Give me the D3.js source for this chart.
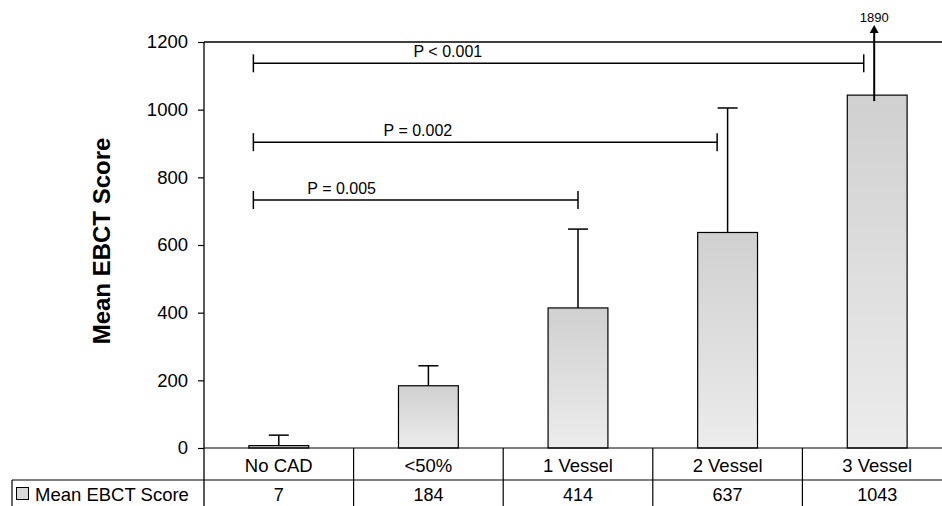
<!DOCTYPE html>
<html>
<head>
<meta charset="utf-8">
<script src="https://cdn.jsdelivr.net/npm/d3@7"></script>
<style>
  body { margin: 0; background: #fff; }
  svg { display: block; font-family: "Liberation Sans", Arial, sans-serif; }
</style>
</head>
<body>
<div id="chart"></div>
<script>
let categories = ["No CAD", "<50%", "1 Vessel", "2 Vessel", "3 Vessel"];
let meanScores = [7, 184, 414, 637, 1043];
let errorTops = [38, 243, 647, 1005, 1890];
let yTicks = [0, 200, 400, 600, 800, 1000, 1200];
let seriesName = "Mean EBCT Score";
// brackets: position in category units (0 = No CAD), height in score units
let brackets = [
    { label: "P = 0.005", from: -0.17, to: 2.0, level: 733, labelAt: 0.42 },
    { label: "P = 0.002", from: -0.17, to: 2.93, level: 904, labelAt: 0.93 },
    { label: "P < 0.001", from: -0.17, to: 3.91, level: 1137, labelAt: 1.13 }
];

function drawChart() {
    let width = 942;
    let height = 506;

    let svg = d3.select("#chart")
        .append("svg")
        .attr("width", width)
        .attr("height", height);

    let defs = svg.append("defs");
    let grad = defs.append("linearGradient")
        .attr("id", "barfill")
        .attr("x1", 0).attr("y1", 0).attr("x2", 0).attr("y2", 1);
    grad.append("stop").attr("offset", "0%").attr("stop-color", "#d0d0d0");
    grad.append("stop").attr("offset", "100%").attr("stop-color", "#ececec");

    let left = 204, right = 952, top = 42, bottom = 448;

    let x = d3.scaleBand()
        .domain(categories)
        .range([left, right])
        .paddingInner(0.6)
        .paddingOuter(0.3);

    let col = d3.scaleBand()
        .domain(categories)
        .range([left, right]);

    let xi = d3.scaleLinear()
        .domain([0, categories.length - 1])
        .range([col(categories[0]) + col.bandwidth() / 2,
                col(categories[4]) + col.bandwidth() / 2]);

    let y = d3.scaleLinear()
        .domain([0, 1200])
        .range([bottom, top]);

    // y axis
    let yAxis = d3.axisLeft(y)
        .tickValues(yTicks)
        .tickFormat(d3.format("d"))
        .tickSize(6)
        .tickPadding(10);

    let gy = svg.append("g")
        .attr("transform", "translate(" + left + ",0)")
        .call(yAxis);
    gy.select(".domain").remove();
    gy.selectAll(".tick line").attr("stroke", "#000").attr("stroke-width", 1.2);
    gy.selectAll(".tick text")
        .attr("font-size", 18.5)
        .attr("font-family", "Liberation Sans, Arial, sans-serif")
        .attr("fill", "#000");

    svg.append("line")
        .attr("x1", left).attr("x2", left)
        .attr("y1", top).attr("y2", height)
        .attr("stroke", "#000").attr("stroke-width", 1.3);
    svg.append("line")
        .attr("x1", left).attr("x2", width)
        .attr("y1", top).attr("y2", top)
        .attr("stroke", "#000").attr("stroke-width", 1.3);

    svg.append("text")
        .attr("transform", "translate(110,241) rotate(-90)")
        .attr("text-anchor", "middle")
        .attr("font-size", 24)
        .attr("font-weight", "bold")
        .text(seriesName);

    // bars
    svg.selectAll("rect.bar")
        .data(meanScores)
        .enter()
        .append("rect")
        .attr("class", "bar")
        .attr("x", (d, i) => x(categories[i]))
        .attr("width", x.bandwidth())
        .attr("y", d => y(d))
        .attr("height", d => y(0) - y(d))
        .attr("fill", "url(#barfill)")
        .attr("stroke", "#000")
        .attr("stroke-width", 1.2);

    // error bars
    let arrowTip = y(1250);
    errorTops.forEach(function (e, i) {
        let cx = x(categories[i]) + x.bandwidth() / 2;
        if (e > 1200) {
            svg.append("line")
                .attr("x1", cx - 3).attr("x2", cx - 3)
                .attr("y1", y(meanScores[i]) + 6).attr("y2", arrowTip + 6)
                .attr("stroke", "#000").attr("stroke-width", 2);
            svg.append("path")
                .attr("d", "M" + (cx - 3) + "," + arrowTip + " l-4.5,8 l9,0 z")
                .attr("fill", "#000");
            svg.append("text")
                .attr("x", cx - 3)
                .attr("y", arrowTip - 3)
                .attr("text-anchor", "middle")
                .attr("font-size", 13)
                .text(e);
        } else {
            svg.append("line")
                .attr("x1", cx).attr("x2", cx)
                .attr("y1", y(meanScores[i])).attr("y2", y(e))
                .attr("stroke", "#000").attr("stroke-width", 1.5);
            svg.append("line")
                .attr("x1", cx - 10).attr("x2", cx + 10)
                .attr("y1", y(e)).attr("y2", y(e))
                .attr("stroke", "#000").attr("stroke-width", 1.5);
        }
    });

    // significance brackets
    brackets.forEach(function (b) {
        let yy = y(b.level);
        let g = svg.append("g").attr("stroke", "#000").attr("stroke-width", 1.5);
        g.append("line").attr("x1", xi(b.from)).attr("x2", xi(b.to)).attr("y1", yy).attr("y2", yy);
        g.append("line").attr("x1", xi(b.from)).attr("x2", xi(b.from)).attr("y1", yy - 9).attr("y2", yy + 9);
        g.append("line").attr("x1", xi(b.to)).attr("x2", xi(b.to)).attr("y1", yy - 9).attr("y2", yy + 9);
        svg.append("text")
            .attr("x", xi(b.labelAt))
            .attr("y", yy - 6)
            .attr("text-anchor", "middle")
            .attr("font-size", 16)
            .text(b.label);
    });

    // data table
    let row1 = bottom, row2 = 480;
    let table = svg.append("g").attr("stroke", "#000").attr("stroke-width", 1.2);
    table.append("line").attr("x1", left).attr("x2", width).attr("y1", row1).attr("y2", row1);
    table.append("line").attr("x1", 12).attr("x2", width).attr("y1", row2).attr("y2", row2);
    table.append("line").attr("x1", 12).attr("x2", 12).attr("y1", row2).attr("y2", height);
    categories.forEach(function (c, i) {
        if (i > 0) {
            table.append("line")
                .attr("x1", col(c)).attr("x2", col(c))
                .attr("y1", row1).attr("y2", height);
        }
    });

    svg.selectAll("text.cat")
        .data(categories)
        .enter()
        .append("text")
        .attr("class", "cat")
        .attr("x", d => col(d) + col.bandwidth() / 2)
        .attr("y", 472)
        .attr("text-anchor", "middle")
        .attr("font-size", 18.5)
        .text(d => d);

    svg.selectAll("text.val")
        .data(meanScores)
        .enter()
        .append("text")
        .attr("class", "val")
        .attr("x", (d, i) => col(categories[i]) + col.bandwidth() / 2)
        .attr("y", 501)
        .attr("text-anchor", "middle")
        .attr("font-size", 18)
        .text(d => d);

    svg.append("rect")
        .attr("x", 16.5).attr("y", 487.5)
        .attr("width", 12).attr("height", 12)
        .attr("fill", "#d8d8d8")
        .attr("stroke", "#000")
        .attr("stroke-width", 1);
    svg.append("text")
        .attr("x", 35)
        .attr("y", 501)
        .attr("font-size", 18.5)
        .text(seriesName);
}

drawChart();
</script>
</body>
</html>
